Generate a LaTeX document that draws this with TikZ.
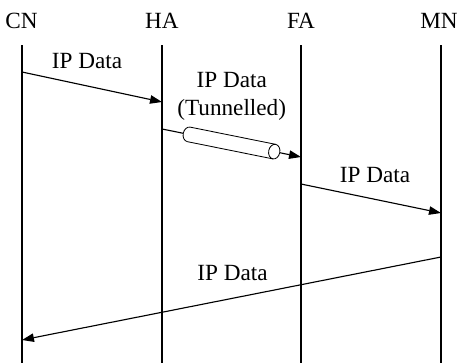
\documentclass[tikz,border=0pt]{standalone}
\usepackage{fontspec}
\setmainfont{Liberation Serif}
\usetikzlibrary{positioning,arrows.meta}

\begin{document}
\begin{tikzpicture}[x=0.025cm, y=-0.025cm,
  every node/.style={font=\fontsize{16.5}{19.5}\selectfont},
  entity/.style={anchor=base, inner sep=0pt},
  lifeline/.style={line width=1pt},
  msg/.style={line width=0.8pt, -{Triangle[length=8.5pt,width=6pt]}},
  lbl/.style={anchor=base, inner sep=0pt},
  tube/.style={line width=0.6pt}
]
  \useasboundingbox (0,0) rectangle (462,363);

  % entities
  \node[entity] (cn) at (21.5,28) {CN};
  \node[entity] (ha) at (162,28)  {HA};
  \node[entity] (fa) at (301,28)  {FA};
  \node[entity] (mn) at (439,28)  {MN};

  % lifelines
  \coordinate (cntop) at (22,45);  \coordinate (cnbot) at (22,363);
  \coordinate (hatop) at (162,45); \coordinate (habot) at (162,363);
  \coordinate (fatop) at (301,45); \coordinate (fabot) at (301,363);
  \coordinate (mntop) at (441,45); \coordinate (mnbot) at (441,363);
  \draw[lifeline] (cntop) -- (cnbot);
  \draw[lifeline] (hatop) -- (habot);
  \draw[lifeline] (fatop) -- (fabot);
  \draw[lifeline] (mntop) -- (mnbot);

  % message end points
  \coordinate (cn1) at (22,72);   \coordinate (ha1) at (162,102);
  \coordinate (ha2) at (162,129); \coordinate (fa2) at (301,157);
  \coordinate (fa3) at (301,184); \coordinate (mn3) at (441,213);
  \coordinate (mn4) at (441,257); \coordinate (cn4) at (22,340);

  % messages
  \draw[msg] (cn1) -- (ha1);
  \draw[msg] (ha2) -- coordinate[midway] (tun) (fa2);
  \draw[msg] (fa3) -- (mn3);
  \draw[msg] (mn4) -- (cn4);

  % tunnel
  \begin{scope}[shift={(tun)}, x=1cm, y=1cm, rotate=-11.4]
    \draw[tube, fill=white] (-1.09,0.185) -- (1.09,0.185)
      arc[start angle=90, end angle=-90, x radius=0.14, y radius=0.185]
      -- (-1.09,-0.185)
      arc[start angle=270, end angle=90, x radius=0.14, y radius=0.185] -- cycle;
    \draw[tube] (1.09,0.185)
      arc[start angle=90, end angle=270, x radius=0.14, y radius=0.185];
  \end{scope}

  % labels
  \node[lbl] (l1) at (87,68)    {IP Data};
  \node[align=center, inner sep=0pt] (l2) at (231.7,96.5) {IP Data\\(Tunnelled)};
  \node[lbl] (l3) at (375,182)  {IP Data};
  \node[lbl] (l4) at (232.5,280) {IP Data};
\end{tikzpicture}
\end{document}
